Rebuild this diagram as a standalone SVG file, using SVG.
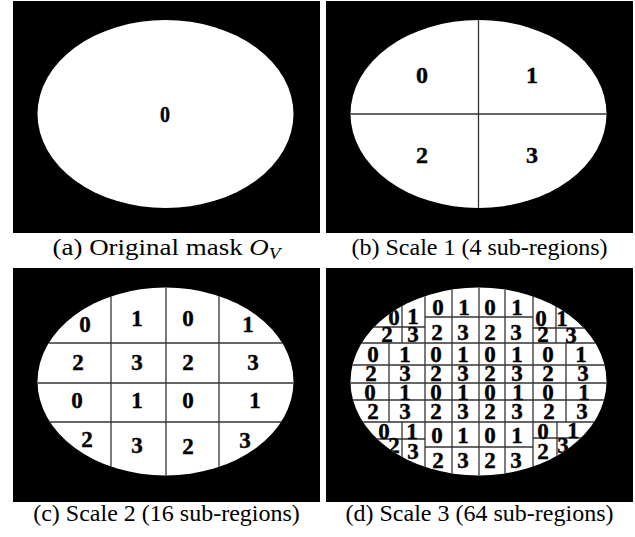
<svg xmlns="http://www.w3.org/2000/svg" width="635" height="537" viewBox="0 0 635 537">
<style>
.bg{fill:#000}
.el{fill:#fff}
.ln{stroke:#333;stroke-width:1.3;fill:none}
.d{font-family:"Liberation Serif","Times New Roman",serif;font-weight:bold;font-size:24px;text-anchor:middle;fill:#000;stroke:#000;stroke-width:0.4}
.m{font-size:23px}
.s text{font-size:23px}
.cap{font-family:"Liberation Serif","Times New Roman",serif;font-size:24px;text-anchor:middle;fill:#000}
</style>
<defs>
<clipPath id="cb"><ellipse cx="478.5" cy="114" rx="128" ry="94"/></clipPath>
<clipPath id="cc"><ellipse cx="165.5" cy="381.5" rx="128" ry="94"/></clipPath>
<clipPath id="cd"><ellipse cx="478.5" cy="381.5" rx="128" ry="94"/></clipPath>
</defs>
<rect width="635" height="537" fill="#fff"/>

<g id="panel-a">
<rect class="bg" x="13" y="1" width="307" height="232"/>
<ellipse class="el" cx="165.5" cy="114" rx="128" ry="94"/>
<text class="d" x="165" y="122" textLength="10" lengthAdjust="spacingAndGlyphs">0</text>
<text class="cap" x="166.5" y="255" textLength="228" lengthAdjust="spacingAndGlyphs">(a) Original mask <tspan font-style="italic">O</tspan><tspan font-style="italic" font-size="17" dy="4">V</tspan></text>
</g>

<g id="panel-b">
<rect class="bg" x="326" y="1" width="307" height="232"/>
<ellipse class="el" cx="478.5" cy="114" rx="128" ry="94"/>
<g clip-path="url(#cb)">
<line class="ln" x1="478.5" y1="15" x2="478.5" y2="215"/>
<line class="ln" x1="345" y1="114" x2="612" y2="114"/>
</g>
<text class="d" x="422" y="83">0</text>
<text class="d" x="532" y="83">1</text>
<text class="d" x="422" y="163">2</text>
<text class="d" x="532" y="163">3</text>
<text class="cap" x="479.5" y="255">(b) Scale 1 (4 sub-regions)</text>
</g>

<g id="panel-c">
<rect class="bg" x="13" y="268" width="307" height="234"/>
<ellipse class="el" cx="165.5" cy="381.5" rx="128" ry="94"/>
<g clip-path="url(#cc)">
<line class="ln" x1="111" y1="280" x2="111" y2="485"/>
<line class="ln" x1="166" y1="280" x2="166" y2="485"/>
<line class="ln" x1="219" y1="280" x2="219" y2="485"/>
<line class="ln" x1="30" y1="343" x2="300" y2="343"/>
<line class="ln" x1="30" y1="383" x2="300" y2="383"/>
<line class="ln" x1="30" y1="422" x2="300" y2="422"/>
</g>
<g class="d m">
<text x="85" y="332">0</text>
<text x="137" y="326">1</text>
<text x="188" y="326">0</text>
<text x="248" y="332">1</text>
<text x="78" y="370">2</text>
<text x="137" y="370">3</text>
<text x="188" y="370">2</text>
<text x="253" y="370">3</text>
<text x="77" y="408">0</text>
<text x="137" y="408">1</text>
<text x="188" y="408">0</text>
<text x="255" y="408">1</text>
<text x="87" y="447">2</text>
<text x="137" y="453">3</text>
<text x="188" y="454">2</text>
<text x="245" y="448">3</text>
</g>
<text class="cap" x="166.5" y="521">(c) Scale 2 (16 sub-regions)</text>
</g>

<g id="panel-d">
<rect class="bg" x="326" y="268" width="307" height="234"/>
<ellipse class="el" cx="478.5" cy="381.5" rx="128" ry="94"/>
<g clip-path="url(#cd)">
<g class="ln">
<line x1="425" y1="280" x2="425" y2="485"/>
<line x1="452" y1="280" x2="452" y2="485"/>
<line x1="479" y1="280" x2="479" y2="485"/>
<line x1="505" y1="280" x2="505" y2="485"/>
<line x1="533" y1="280" x2="533" y2="485"/>
<line x1="402" y1="280" x2="402" y2="343"/>
<line x1="556" y1="280" x2="556" y2="343"/>
<line x1="402" y1="422" x2="402" y2="485"/>
<line x1="557" y1="422" x2="557" y2="485"/>
<line x1="389" y1="343" x2="389" y2="422"/>
<line x1="566" y1="343" x2="566" y2="422"/>
<line x1="345" y1="343" x2="612" y2="343"/>
<line x1="345" y1="383" x2="612" y2="383"/>
<line x1="345" y1="422" x2="612" y2="422"/>
<line x1="345" y1="365" x2="612" y2="365"/>
<line x1="345" y1="400" x2="612" y2="400"/>
<line x1="425" y1="317" x2="533" y2="317"/>
<line x1="345" y1="327" x2="425" y2="327"/>
<line x1="533" y1="328" x2="612" y2="328"/>
<line x1="425" y1="447" x2="533" y2="447"/>
<line x1="345" y1="439" x2="425" y2="439"/>
<line x1="533" y1="438" x2="612" y2="438"/>
</g>
<g class="d s">
<text x="438" y="315">0</text><text x="464" y="315">1</text><text x="490" y="315">0</text><text x="517" y="315">1</text>
<text x="437" y="340">2</text><text x="463" y="340">3</text><text x="490" y="340">2</text><text x="516" y="340">3</text>
<text x="394" y="325">0</text><text x="413" y="324">1</text><text x="387" y="342">2</text><text x="413" y="342">3</text>
<text x="541" y="326">0</text><text x="562" y="326">1</text><text x="543" y="342">2</text><text x="571" y="343">3</text>
<text x="373" y="362">0</text><text x="405" y="362">1</text><text x="436" y="362">0</text><text x="463" y="362">1</text><text x="490" y="362">0</text><text x="517" y="362">1</text><text x="548" y="362">0</text><text x="581" y="362">1</text>
<text x="371" y="381">2</text><text x="405" y="381">3</text><text x="436" y="381">2</text><text x="463" y="381">3</text><text x="490" y="381">2</text><text x="517" y="381">3</text><text x="548" y="381">2</text><text x="583" y="381">3</text>
<text x="370" y="400">0</text><text x="405" y="400">1</text><text x="436" y="400">0</text><text x="463" y="400">1</text><text x="490" y="400">0</text><text x="518" y="400">1</text><text x="548" y="400">0</text><text x="584" y="400">1</text>
<text x="373" y="419">2</text><text x="405" y="419">3</text><text x="436" y="419">2</text><text x="463" y="419">3</text><text x="490" y="419">2</text><text x="517" y="419">3</text><text x="549" y="419">2</text><text x="582" y="419">3</text>
<text x="437" y="443">0</text><text x="463" y="443">1</text><text x="490" y="443">0</text><text x="517" y="443">1</text>
<text x="438" y="468">2</text><text x="463" y="468">3</text><text x="490" y="468">2</text><text x="516" y="468">3</text>
<text x="384" y="439">0</text><text x="412" y="439">1</text><text x="394" y="453">2</text><text x="413" y="459">3</text>
<text x="543" y="439">0</text><text x="573" y="438">1</text><text x="543" y="459">2</text><text x="563" y="453">3</text>
</g>
</g>
<text class="cap" x="479.5" y="521">(d) Scale 3 (64 sub-regions)</text>
</g>
</svg>
